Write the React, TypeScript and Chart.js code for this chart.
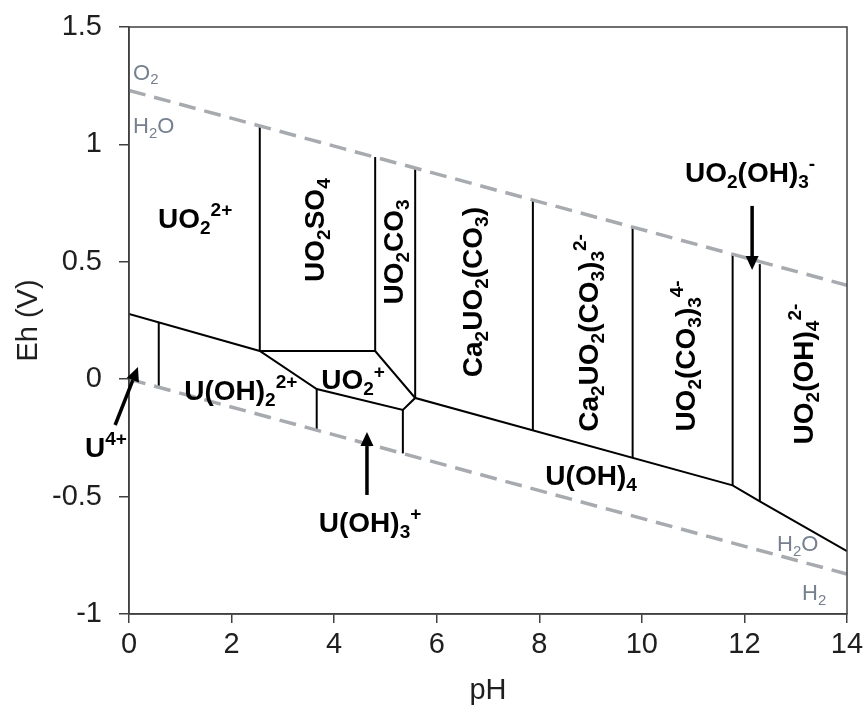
import React, { useEffect, useRef } from 'react';
import { Chart, registerables } from 'chart.js';

Chart.register(...registerables);

// Axis ticks
const pHTicks = [0, 2, 4, 6, 8, 10, 12, 14];
const ehTicks = [-1, -0.5, 0, 0.5, 1, 1.5];

// Water stability limits (O2/H2O and H2O/H2)
const waterPH = [0, 14];
const o2Eh = [1.23, 0.4];
const h2Eh = [0.0, -0.83];

// Main U(IV) / U(V,VI) boundary
const redoxPH = [0, 2.55, 3.66, 5.34, 5.58, 11.77, 12.3, 14];
const redoxEh = [0.278, 0.12, -0.042, -0.131, -0.08, -0.452, -0.52, -0.732];

// Upper edge of the UO2+ field
const uo2PH = [2.55, 4.8, 5.58];
const uo2Eh = [0.12, 0.12, -0.08];

// Vertical species boundaries
const vertPH = [0.58, 2.55, 3.66, 4.8, 5.34, 5.58, 7.875, 9.82, 11.77, 12.3];
const vertLow = [-0.034, 0.12, -0.217, 0.12, -0.316, -0.08, -0.218, -0.335, -0.452, -0.52];
const vertHigh = [0.242, 1.079, -0.042, 0.946, -0.131, 0.9, 0.764, 0.649, 0.533, 0.49];

// Species field labels (_ subscript, ^ superscript)
const speciesNames = [
  'UO_2^{2+}', 'UO_2SO_4', 'UO_2CO_3', 'Ca_2UO_2(CO_3)', 'Ca_2UO_2(CO_3)_3^{2-}',
  'UO_2(CO_3)_3^{4-}', 'UO_2(OH)_4^{2-}', 'U(OH)_2^{2+}', 'UO_2^+', 'U(OH)_4',
  'U^{4+}', 'U(OH)_3^+', 'UO_2(OH)_3^-',
];
const speciesPH = [1.29, 3.61, 5.15, 6.69, 8.95, 10.84, 13.14, 2.18, 4.37, 9.01, -0.45, 4.7, 12.11];
const speciesEh = [0.687, 0.635, 0.542, 0.371, 0.197, 0.099, 0.022, -0.046, 0.0, -0.408, -0.289, -0.608, 0.882];
const speciesVertical = [false, true, true, true, true, true, true, false, false, false, false, false, false];

// Pointer arrows for narrow fields
const arrowFromPH = [-0.27, 4.64, 12.15];
const arrowFromEh = [-0.195, -0.493, 0.738];
const arrowToPH = [0.175, 4.64, 12.15];
const arrowToEh = [0.052, -0.225, 0.465];

// Water line labels
const waterNames = ['O_2', 'H_2O', 'H_2O', 'H_2'];
const waterPHPos = [0.08, 0.08, 13.04, 13.36];
const waterEhPos = [1.31, 1.083, -0.698, -0.906];
const waterAlignLeft = [true, true, false, false];

const FAMILY = '"Liberation Sans", Arial, Helvetica, sans-serif';

type Seg = { t: string; k: number };

function parseRich(s: string): Seg[] {
  const segs: Seg[] = [];
  let buf = '';
  let i = 0;
  while (i < s.length) {
    const c = s[i];
    if (c === '_' || c === '^') {
      if (buf) segs.push({ t: buf, k: 0 });
      buf = '';
      const k = c === '_' ? 1 : 2;
      let t: string;
      if (s[i + 1] === '{') {
        const j = s.indexOf('}', i + 2);
        t = s.slice(i + 2, j);
        i = j + 1;
      } else {
        t = s[i + 1];
        i += 2;
      }
      segs.push({ t, k });
    } else {
      buf += c;
      i++;
    }
  }
  if (buf) segs.push({ t: buf, k: 0 });
  return segs;
}

function drawRich(
  ctx: CanvasRenderingContext2D, text: string, x: number, y: number,
  size: number, weight: string, color: string, alignLeft: boolean, vertical: boolean
) {
  const segs = parseRich(text);
  const small = size * 0.68;
  const fontFor = (k: number) => `${weight} ${k ? small : size}px ${FAMILY}`;
  ctx.save();
  ctx.translate(x, y);
  if (vertical) ctx.rotate(-Math.PI / 2);
  let total = 0;
  const widths = segs.map((s) => {
    ctx.font = fontFor(s.k);
    const w = ctx.measureText(s.t).width;
    total += w;
    return w;
  });
  let cx = alignLeft ? 0 : -total / 2;
  const base = size * 0.36;
  ctx.fillStyle = color;
  ctx.textAlign = 'left';
  ctx.textBaseline = 'alphabetic';
  segs.forEach((s, i) => {
    ctx.font = fontFor(s.k);
    const dy = s.k === 1 ? size * 0.22 : s.k === 2 ? -size * 0.42 : 0;
    ctx.fillText(s.t, cx, base + dy);
    cx += widths[i];
  });
  ctx.restore();
}

function drawArrow(ctx: CanvasRenderingContext2D, x0: number, y0: number, x1: number, y1: number) {
  const ang = Math.atan2(y1 - y0, x1 - x0);
  const headLen = 14;
  const headW = 6.5;
  const bx = x1 - Math.cos(ang) * headLen;
  const by = y1 - Math.sin(ang) * headLen;
  ctx.save();
  ctx.strokeStyle = '#000';
  ctx.fillStyle = '#000';
  ctx.lineWidth = 3.5;
  ctx.beginPath();
  ctx.moveTo(x0, y0);
  ctx.lineTo(bx, by);
  ctx.stroke();
  ctx.beginPath();
  ctx.moveTo(x1, y1);
  ctx.lineTo(bx + Math.sin(ang) * headW, by - Math.cos(ang) * headW);
  ctx.lineTo(bx - Math.sin(ang) * headW, by + Math.cos(ang) * headW);
  ctx.closePath();
  ctx.fill();
  ctx.restore();
}

const toPoints = (xs: number[], ys: number[]) => xs.map((x, i) => ({ x, y: ys[i] }));

const annotations = {
  id: 'ehPhAnnotations',
  afterDatasetsDraw(chart: any) {
    const { ctx, chartArea, scales } = chart;
    const sx = (v: number) => scales.x.getPixelForValue(v);
    const sy = (v: number) => scales.y.getPixelForValue(v);

    ctx.save();
    ctx.strokeStyle = '#404040';
    ctx.lineWidth = 1.5;
    ctx.strokeRect(chartArea.left, chartArea.top, chartArea.right - chartArea.left, chartArea.bottom - chartArea.top);
    ctx.restore();

    waterNames.forEach((n, i) => {
      drawRich(ctx, n, sx(waterPHPos[i]), sy(waterEhPos[i]), 22, 'normal', '#76808f', waterAlignLeft[i], false);
    });

    speciesNames.forEach((n, i) => {
      drawRich(ctx, n, sx(speciesPH[i]), sy(speciesEh[i]), 28, 'bold', '#000', false, speciesVertical[i]);
    });

    arrowFromPH.forEach((p, i) => {
      drawArrow(ctx, sx(p), sy(arrowFromEh[i]), sx(arrowToPH[i]), sy(arrowToEh[i]));
    });
  },
};

export default function App() {
  const canvasRef = useRef<HTMLCanvasElement | null>(null);

  useEffect(() => {
    const canvas = canvasRef.current;
    if (!canvas) return;

    const dashed = {
      borderColor: '#a7aaae',
      borderWidth: 3.5,
      borderDash: [17, 9],
      borderCapStyle: 'butt' as const,
    };
    const solid = { borderColor: '#000', borderWidth: 2 };

    const datasets: any[] = [
      { label: 'O2/H2O', data: toPoints(waterPH, o2Eh), ...dashed },
      { label: 'H2O/H2', data: toPoints(waterPH, h2Eh), ...dashed },
      { label: 'redox', data: toPoints(redoxPH, redoxEh), ...solid },
      { label: 'UO2+', data: toPoints(uo2PH, uo2Eh), ...solid },
      ...vertPH.map((p, i) => ({
        label: `v${i}`,
        data: [{ x: p, y: vertLow[i] }, { x: p, y: vertHigh[i] }],
        ...solid,
      })),
    ].map((d) => ({ ...d, showLine: true, pointRadius: 0, fill: false, tension: 0 }));

    const tickFont = { family: FAMILY, size: 29 };
    const chart = new Chart(canvas, {
      type: 'scatter',
      data: { datasets },
      options: {
        animation: false,
        responsive: false,
        devicePixelRatio: 1,
        layout: { padding: { top: 27, right: 21, left: 0, bottom: 0 } },
        plugins: { legend: { display: false }, tooltip: { enabled: false } },
        scales: {
          x: {
            type: 'linear',
            min: 0,
            max: 14,
            afterBuildTicks: (s: any) => { s.ticks = pHTicks.map((v) => ({ value: v })); },
            afterFit: (s: any) => { s.height = 96; s.paddingLeft = 0; s.paddingRight = 0; },
            grid: { drawOnChartArea: false, drawTicks: true, tickLength: 9, color: '#404040', lineWidth: 1.5 },
            border: { color: '#404040', width: 1.5 },
            ticks: { color: '#1f1f1f', font: tickFont, padding: 5, maxRotation: 0, callback: (v: any) => String(v) },
            title: { display: true, text: 'pH', color: '#1f1f1f', font: tickFont, padding: { top: 0, bottom: 2 } },
          },
          y: {
            type: 'linear',
            min: -1,
            max: 1.5,
            afterBuildTicks: (s: any) => { s.ticks = ehTicks.map((v) => ({ value: v })); },
            afterFit: (s: any) => { s.width = 129; s.paddingTop = 0; s.paddingBottom = 0; },
            grid: { drawOnChartArea: false, drawTicks: true, tickLength: 10, color: '#404040', lineWidth: 1.5 },
            border: { color: '#404040', width: 1.5 },
            ticks: { color: '#1f1f1f', font: tickFont, padding: 17, callback: (v: any) => String(v) },
            title: { display: true, text: 'Eh (V)', color: '#1f1f1f', font: tickFont, padding: { top: 12, bottom: 0 } },
          },
        },
      },
      plugins: [annotations],
    });

    return () => chart.destroy();
  }, []);

  return (
    <div style={{ position: 'fixed', left: 0, top: 0, width: 868, height: 710, background: '#fff' }}>
      <canvas ref={canvasRef} width={868} height={710} style={{ display: 'block' }} />
    </div>
  );
}
